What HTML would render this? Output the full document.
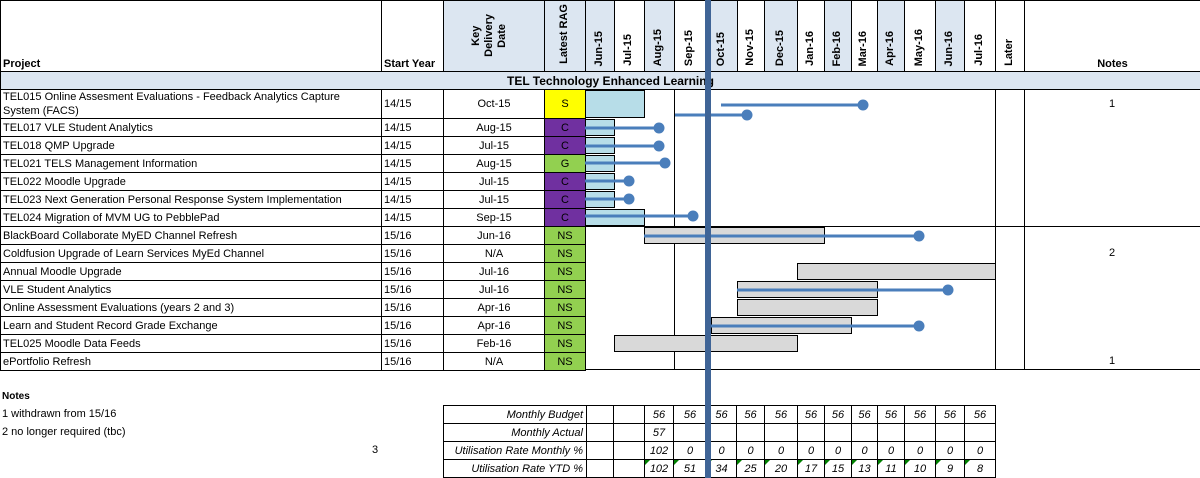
<!DOCTYPE html>
<html><head><meta charset="utf-8"><style>
body{margin:0;width:1200px;height:478px;background:#fff;position:relative;overflow:hidden;font-family:"Liberation Sans",sans-serif;font-size:11px;color:#000}
.a{position:absolute;box-sizing:border-box}
.c{position:absolute;box-sizing:border-box;border:1px solid #000;display:flex;align-items:center;white-space:nowrap;overflow:hidden}
.v{position:absolute;writing-mode:vertical-rl;transform:rotate(180deg);font-weight:bold;font-size:11px;white-space:nowrap}
</style></head><body>
<div id="r"></div>
<script>
const R=document.getElementById('r');let h='';
function c(x,y,w,ht,t,st){h+=`<div class="c" style="left:${x}px;top:${y}px;width:${w+1}px;height:${ht+1}px;${st||''}">${t||''}</div>`;}
function a(x,y,w,ht,st,t){h+=`<div class="a" style="left:${x}px;top:${y}px;width:${w}px;height:${ht}px;${st}">${t||''}</div>`;}
// header
const cols=[585,614,644,674,706,737,764,797,824,851,877,904,935,964,995,1024];
const mon=['Jun-15','Jul-15','Aug-15','Sep-15','Oct-15','Nov-15','Dec-15','Jan-16','Feb-16','Mar-16','Apr-16','May-16','Jun-16','Jul-16','Later'];
const shade=[1,0,1,0,1,0,1,0,1,0,1,0,1,0,0];
c(0,0,381,71,'<b style="margin-top:auto;padding:0 0 1px 2px">Project</b>','align-items:flex-end');
c(381,0,62,71,'<b style="padding:0 0 1px 2px">Start Year</b>','align-items:flex-end');
c(443,0,101,71,'','background:#dce6f1');
h+=`<div class="v" style="left:470px;top:14px;line-height:13px;text-align:center">Key<br>Delivery<br>Date</div>`;
c(544,0,41,71,'','background:#dce6f1');
h+=`<div class="v" style="left:558px;top:4px">Latest RAG</div>`;
for(let i=0;i<15;i++){c(cols[i],0,cols[i+1]-cols[i],71,'',shade[i]?'background:#dce6f1':'');
 h+=`<div class="v" style="left:${(cols[i]+cols[i+1])/2-7}px;bottom:${478-66}px">${mon[i]}</div>`;}
c(1024,0,176,71,'<b style="margin:0 auto 1px">Notes</b>','align-items:flex-end');
c(0,71,1200,18,'<b style="margin-left:506px">TEL Technology Enhanced Learning</b>','background:#dce6f1;font-size:12px');
const rows=[
['TEL015 Online Assesment Evaluations - Feedback Analytics Capture<br>System (FACS)','14/15','Oct-15','S','#ffff00','1'],
['TEL017 VLE Student Analytics','14/15','Aug-15','C','#7030a0',''],
['TEL018 QMP Upgrade','14/15','Jul-15','C','#7030a0',''],
['TEL021 TELS Management Information','14/15','Aug-15','G','#92d050',''],
['TEL022 Moodle Upgrade','14/15','Jul-15','C','#7030a0',''],
['TEL023 Next Generation Personal Response System Implementation','14/15','Jul-15','C','#7030a0',''],
['TEL024 Migration of MVM UG to PebblePad','14/15','Sep-15','C','#7030a0',''],
['BlackBoard Collaborate MyED Channel Refresh','15/16','Jun-16','NS','#92d050',''],
['Coldfusion Upgrade of Learn Services MyEd Channel','15/16','N/A','NS','#92d050','2'],
['Annual Moodle Upgrade','15/16','Jul-16','NS','#92d050',''],
['VLE Student Analytics','15/16','Jul-16','NS','#92d050',''],
['Online Assessment Evaluations  (years 2 and 3)','15/16','Apr-16','NS','#92d050',''],
['Learn and Student Record Grade Exchange','15/16','Apr-16','NS','#92d050',''],
['TEL025 Moodle Data Feeds','15/16','Feb-16','NS','#92d050',''],
['ePortfolio Refresh','15/16','N/A','NS','#92d050','1']];
let ys=[89,118];for(let i=2;i<=15;i++)ys.push(118+(i-1)*18);
const bars=[[585,644,'#b7dde8'],[585,614,'#b7dde8'],[585,614,'#b7dde8'],[585,614,'#b7dde8'],[585,614,'#b7dde8'],[585,614,'#b7dde8'],[585,644,'#b7dde8'],
[644,824,'#d9d9d9'],null,[797,995,'#d9d9d9'],[737,877,'#d9d9d9'],[737,877,'#d9d9d9'],[711,851,'#d9d9d9'],[614,797,'#d9d9d9'],null];
// gantt area frame
a(585,89,615,281,'border-left:1px solid #000;border-bottom:1px solid #000');
[674,995,1024].forEach(x=>a(x,89,1,281,'background:#000'));
a(585,226,615,1,'background:#000');
rows.forEach((r,i)=>{const y=ys[i],ht=ys[i+1]-y;
 c(0,y,381,ht,`<span style="padding-left:2px;line-height:14px">${r[0]}</span>`);
 c(381,y,62,ht,`<span style="padding-left:2px">${r[1]}</span>`);
 c(443,y,101,ht,`<span style="margin:auto">${r[2]}</span>`);
 c(544,y,41,ht,`<span style="margin:auto;${r[4]=='#7030a0'?'color:#000':''}">${r[3]}</span>`,'background:'+r[4]);
 const b=bars[i];if(b)a(b[0],y+(i==0?1:1),b[1]-b[0]+1,ht-(i==0?1:1),`background:${b[2]};border:1px solid #000`);
 if(r[5])a(1024,y,176,ht,'display:flex;align-items:center;justify-content:center',r[5]);
});
// lines
const L=[[721,863,105],[675,747,115],[585,659,128],[585,659,146],[585,665,163],[585,629,181],[585,629,199],[585,693,216],[644,919,236],[737,948,290],[711,919,326]];
let s='<svg class="a" style="left:0;top:0" width="1200" height="478">';
L.forEach(l=>{s+=`<line x1="${l[0]}" y1="${l[2]}" x2="${l[1]}" y2="${l[2]}" stroke="#4a7ebb" stroke-width="3"/><circle cx="${l[1]}" cy="${l[2]}" r="5.5" fill="#4a7ebb"/>`});
s+='<rect x="705" y="0" width="6" height="478" fill="#3f6496"/></svg>';
// notes
a(2,391,200,14,'font-weight:bold;font-size:10px','Notes');
a(2,408,200,14,'','1 withdrawn from 15/16');
a(2,426,200,14,'','2 no longer required (tbc)');
a(372,444,20,14,'','3');
// bottom table
const tcols=[586,613,644,673,706,736,764,797,824,851,877,904,935,964,995];
const labels=['Monthly Budget','Monthly Actual','Utilisation Rate Monthly %','Utilisation Rate YTD %'];
const vals=[['','','56','56','56','56','56','56','56','56','56','56','56','56'],['','','57'],['','','102','0','0','0','0','0','0','0','0','0','0','0'],['','','102','51','34','25','20','17','15','13','11','10','9','8']];
for(let j=0;j<4;j++){const y=405+j*18;
 c(443,y,143,18,`<i style="margin-left:auto;padding-right:3px">${labels[j]}</i>`,'border-left:none');
 for(let k=0;k<14;k++){const x0=[586,613,644,673,706,736,764,797,824,851,877,904,935,964][k],x1=[613,644,673,706,736,764,797,824,851,877,904,935,964,995][k];
  let v=vals[j][k]||'';c(x0,y,x1-x0,18,`<i style="margin:auto">${v}</i>`);
  if(j==3&&k>=2)h+=`<div class="a" style="left:${x0+1}px;top:${y+1}px;width:0;height:0;border-top:5px solid #008000;border-right:5px solid transparent"></div>`;}
}
a(443,405,1,73,'background:#000');
R.innerHTML=h+s;
</script>
</body></html>
